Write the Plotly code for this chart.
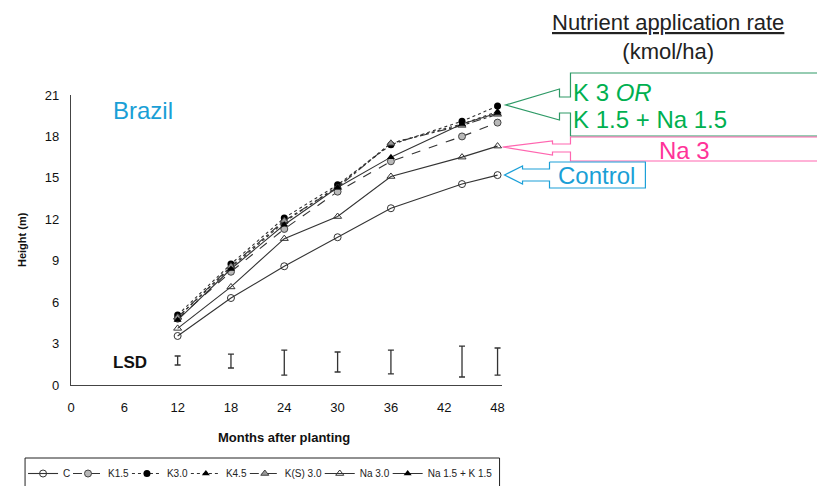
import plotly.graph_objects as go

months = [12, 18, 24, 30, 36, 44, 48]
x_ticks = [0, 6, 12, 18, 24, 30, 36, 42, 48]
y_ticks = [0, 3, 6, 9, 12, 15, 18, 21]

control = [3.55, 6.3, 8.6, 10.7, 12.8, 14.55, 15.2]
k15 = [4.8, 8.2, 11.3, 14.0, 16.2, 18.0, 19.0]
k30 = [5.07, 8.76, 12.1, 14.5, 17.4, 19.1, 20.2]
k45 = [4.9, 8.5, 11.8, 14.4, 17.5, 18.9, 19.8]
ks30 = [4.9, 8.6, 11.9, 14.3, 17.5, 18.8, 19.6]
na30 = [4.1, 7.1, 10.6, 12.2, 15.1, 16.5, 17.3]
na15k15 = [4.7, 8.4, 11.6, 14.3, 16.5, 18.9, 19.7]

lsd_low = [1.45, 1.23, 0.72, 0.94, 0.8, 0.58, 0.72]
lsd_high = [2.1, 2.24, 2.53, 2.39, 2.53, 2.82, 2.68]

# plot-area geometry in reference pixels (page has an 8px body margin)
OFF = 8
X_MAX = 48.5
L, T, B = 71, 95, 385
R = L + (498 - 71) * X_MAX / 48
W, H = 825 - OFF, 486 - OFF


def px(x):
    return (x - L) / (R - L)


def py(y):
    return (B - y) / (B - T)


def path(points):
    return "M " + " L ".join(f"{px(a):.5f},{py(b):.5f}" for a, b in points)


ink = "#333333"
fig = go.Figure()

series = [
    ("C", control, dict(symbol="circle-open", color=ink, size=7), "solid"),
    ("K1.5", k15, dict(symbol="circle", color="#b8b8b8", size=7, line=dict(color="#444", width=1)), "dash"),
    ("K3.0", k30, dict(symbol="circle", color="#000", size=7), "dot"),
    ("K4.5", k45, dict(symbol="triangle-up", color="#000", size=7), "dot"),
    ("K(S) 3.0", ks30, dict(symbol="triangle-up", color="#999", size=7, line=dict(color="#444", width=1)), "dashdot"),
    ("Na 3.0", na30, dict(symbol="triangle-up-open", color=ink, size=7), "solid"),
    ("Na 1.5 + K 1.5", na15k15, dict(symbol="triangle-up", color="#000", size=7), "solid"),
]
# legend text start positions (reference pixels) for each entry
legend_text_x = [63, 108, 167, 226, 285, 360, 428]

legend_layouts = {}
for i, (name, vals, mk, dash) in enumerate(series):
    key = "legend" if i == 0 else f"legend{i + 1}"
    fig.add_trace(go.Scatter(
        x=months, y=vals, name=name, mode="lines+markers", cliponaxis=False,
        line=dict(color=ink, width=1.1, dash=dash), marker=mk, legend=key,
    ))
    legend_layouts[key] = dict(
        orientation="h", x=px(legend_text_x[i] - 40), y=py(459), xanchor="left", yanchor="top",
        bgcolor="rgba(0,0,0,0)", borderwidth=0, itemwidth=30,
        font=dict(size=10, color="#222"),
    )

center = [(a + b) / 2 for a, b in zip(lsd_low, lsd_high)]
half = [(b - a) / 2 for a, b in zip(lsd_low, lsd_high)]
fig.add_trace(go.Scatter(
    x=months, y=center, mode="markers", cliponaxis=False,
    marker=dict(size=0.1, color="rgba(0,0,0,0)"),
    error_y=dict(type="data", array=half, symmetric=True, color="#333", thickness=1.3, width=3),
    showlegend=False, hoverinfo="skip",
))

fig.update_xaxes(range=[0, X_MAX], tickvals=x_ticks, showgrid=False, zeroline=False,
                 showline=True, linecolor="#444", linewidth=1.2, ticks="",
                 ticklabelstandoff=10, tickfont=dict(size=13, color="#111"))
fig.update_yaxes(range=[0, 21], tickvals=y_ticks, showgrid=False, zeroline=False,
                 showline=True, linecolor="#444", linewidth=1.2, ticks="",
                 ticklabelstandoff=8, tickfont=dict(size=13, color="#111"))


def note(x, y, text, size, color, xanchor="center", yanchor="middle", angle=0):
    return dict(x=px(x), y=py(y), xref="paper", yref="paper", text=text,
                xanchor=xanchor, yanchor=yanchor, textangle=angle, showarrow=False,
                font=dict(size=size, color=color))


annotations = [
    dict(x=6.6, y=1.6, xref="x", yref="y", text="<b>LSD</b>", showarrow=False,
         xanchor="center", yanchor="middle", font=dict(size=17, color="#111")),
    dict(x=8.1, y=19.9, xref="x", yref="y", text="Brazil", showarrow=False,
         xanchor="center", yanchor="middle", font=dict(size=24, color="#1a9fd6")),
    note(22, 240, "<b>Height (m)</b>", 11, "#111", angle=-90),
    note(284, 437, "<b>Months after planting</b>", 13, "#111"),
    note(669, 8, '<span style="text-decoration:underline">Nutrient application rate</span><br>(kmol/ha)',
         22, "#222", yanchor="top"),
    note(572, 92, "K 3 <i>OR</i>", 24, "#00b050", xanchor="left"),
    note(572, 120, "K 1.5 + Na 1.5", 24, "#00b050", xanchor="left"),
    note(685, 150, "Na 3", 24, "#ff3399"),
    note(597, 175, "Control", 24, "#1a9fd6"),
]

green_line = "#2e9a66"
pink_line = "#ff66b0"
blue_line = "#1ca0d8"
shapes = [
    dict(type="path", xref="paper", yref="paper", line=dict(color=green_line, width=1.2),
         path=path([(840, 73), (571, 73), (571, 97), (560, 97), (560, 89), (506, 105),
                    (560, 120), (560, 113), (571, 113), (571, 136), (840, 136)])),
    dict(type="path", xref="paper", yref="paper", line=dict(color=pink_line, width=1.2),
         path=path([(840, 137), (571, 137), (571, 144), (553, 144), (553, 141), (503, 147),
                    (553, 155), (553, 152), (571, 152), (571, 161), (840, 161)])),
    dict(type="path", xref="paper", yref="paper", line=dict(color=blue_line, width=1.2),
         path=path([(550, 162), (646, 162), (646, 188), (550, 188), (550, 181), (523, 181),
                    (523, 184), (505, 175), (523, 166), (523, 169), (550, 169), (550, 162)])),
    # legend frame
    dict(type="rect", xref="paper", yref="paper", line=dict(color="#222", width=1),
         x0=px(25), x1=px(500), y0=py(458), y1=py(500)),
]

fig.update_layout(
    width=W, height=H,
    margin=dict(l=L - OFF, r=W - (R - OFF), t=T - OFF, b=H - (B - OFF), autoexpand=False),
    paper_bgcolor="white", plot_bgcolor="white",
    font=dict(family="Liberation Sans, Arial, sans-serif", color="#222"),
    annotations=annotations, shapes=shapes,
    showlegend=True,
    **legend_layouts,
)

fig.write_html("out.html")
